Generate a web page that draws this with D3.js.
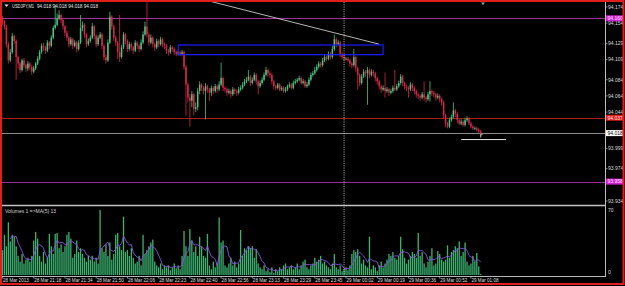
<!DOCTYPE html>
<html><head><meta charset="utf-8">
<script src="https://cdn.jsdelivr.net/npm/d3@7"></script>
<style>html,body{margin:0;padding:0;background:#000;overflow:hidden}svg{display:block}</style>
</head><body><svg id="c" width="625" height="286"></svg>
<script>
const opens = [
94.160,94.156,94.150,94.128,94.108,94.118,94.138,94.132,94.112,94.104,
94.096,94.108,94.102,94.098,94.104,94.100,94.094,94.098,94.104,94.110,
94.118,94.126,94.124,94.120,94.130,94.126,94.136,94.148,94.152,94.160,
94.164,94.158,94.150,94.142,94.136,94.128,94.134,94.126,94.130,94.122,
94.130,94.148,94.152,94.140,94.128,94.132,94.136,94.150,94.138,94.128,
94.136,94.140,94.126,94.112,94.108,94.130,94.162,94.150,94.136,94.130,
94.118,94.112,94.124,94.140,94.132,94.122,94.128,94.124,94.120,94.130,
94.126,94.122,94.130,94.140,94.150,94.140,94.130,94.136,94.128,94.124,
94.132,94.128,94.134,94.128,94.126,94.120,94.118,94.124,94.122,94.118,
94.116,94.118,94.116,94.118,94.100,94.078,94.062,94.058,94.066,94.048,
94.050,94.070,94.078,94.074,94.070,94.076,94.072,94.068,94.074,94.070,
94.076,94.072,94.078,94.086,94.074,94.072,94.068,94.070,94.066,94.072,
94.070,94.068,94.072,94.074,94.078,94.082,94.084,94.088,94.080,94.084,
94.090,94.082,94.076,94.080,94.084,94.090,94.096,94.092,94.090,94.082,
94.076,94.074,94.078,94.072,94.074,94.070,94.072,94.076,94.078,94.074,
94.080,94.082,94.084,94.086,94.080,94.082,94.076,94.078,94.084,94.090,
94.092,94.096,94.100,94.104,94.102,94.108,94.112,94.110,94.116,94.112,
94.122,94.134,94.128,94.130,94.116,94.112,94.110,94.110,94.108,94.104,
94.102,94.112,94.098,94.090,94.080,94.088,94.094,94.092,94.096,94.090,
94.094,94.092,94.086,94.082,94.076,94.072,94.074,94.070,94.072,94.068,
94.070,94.074,94.072,94.076,94.080,94.088,94.080,94.076,94.074,94.072,
94.078,94.074,94.070,94.066,94.064,94.062,94.066,94.062,94.060,94.066,
94.070,94.068,94.066,94.062,94.064,94.060,94.056,94.040,94.030,94.026,
94.034,94.038,94.046,94.042,94.034,94.030,94.032,94.028,94.034,94.036,
94.030,94.026,94.024,94.024,94.022,94.020];
const highs = [
94.163,94.158,94.152,94.131,94.122,94.142,94.140,94.134,94.114,94.106,
94.110,94.111,94.104,94.107,94.106,94.102,94.101,94.106,94.113,94.121,
94.129,94.130,94.126,94.133,94.132,94.139,94.151,94.177,94.166,94.170,
94.166,94.160,94.152,94.145,94.138,94.137,94.136,94.133,94.132,94.133,
94.164,94.156,94.154,94.142,94.135,94.139,94.154,94.152,94.140,94.139,
94.143,94.142,94.128,94.115,94.134,94.168,94.164,94.152,94.139,94.132,
94.164,94.127,94.143,94.142,94.134,94.131,94.130,94.126,94.133,94.132,
94.128,94.134,94.144,94.156,94.180,94.142,94.140,94.138,94.130,94.135,
94.134,94.137,94.136,94.130,94.128,94.122,94.127,94.126,94.124,94.120,
94.120,94.120,94.121,94.120,94.102,94.080,94.066,94.070,94.068,94.056,
94.074,94.082,94.080,94.076,94.080,94.078,94.074,94.077,94.076,94.079,
94.078,94.082,94.105,94.088,94.076,94.074,94.073,94.072,94.075,94.074,
94.072,94.075,94.077,94.081,94.085,94.087,94.096,94.090,94.087,94.093,
94.092,94.084,94.083,94.087,94.093,94.100,94.098,94.094,94.092,94.084,
94.078,94.080,94.080,94.076,94.076,94.075,94.078,94.081,94.080,94.083,
94.085,94.086,94.089,94.088,94.085,94.084,94.081,94.087,94.093,94.095,
94.100,94.103,94.107,94.106,94.111,94.115,94.114,94.119,94.118,94.126,
94.140,94.136,94.133,94.132,94.118,94.114,94.112,94.112,94.110,94.106,
94.122,94.114,94.100,94.092,94.091,94.097,94.096,94.100,94.098,94.097,
94.096,94.094,94.088,94.084,94.078,94.077,94.093,94.075,94.074,94.073,
94.077,94.096,94.079,94.083,94.091,94.090,94.082,94.078,94.076,94.081,
94.080,94.076,94.072,94.068,94.066,94.069,94.082,94.064,94.069,94.082,
94.072,94.070,94.068,94.067,94.066,94.062,94.058,94.042,94.032,94.037,
94.041,94.056,94.048,94.044,94.036,94.035,94.034,94.037,94.039,94.038,
94.032,94.028,94.026,94.026,94.024,94.022];
const lows = [
94.152,94.146,94.124,94.104,94.106,94.116,94.128,94.084,94.098,94.092,
94.094,94.099,94.094,94.095,94.096,94.090,94.092,94.096,94.102,94.108,
94.116,94.120,94.116,94.118,94.122,94.124,94.134,94.146,94.150,94.158,
94.154,94.146,94.138,94.132,94.124,94.126,94.122,94.124,94.118,94.120,
94.128,94.144,94.136,94.124,94.126,94.130,94.134,94.134,94.124,94.126,
94.134,94.122,94.108,94.104,94.106,94.128,94.146,94.132,94.126,94.110,
94.106,94.110,94.122,94.128,94.118,94.120,94.120,94.116,94.118,94.122,
94.118,94.120,94.128,94.138,94.136,94.126,94.128,94.124,94.120,94.122,
94.124,94.126,94.124,94.122,94.116,94.114,94.116,94.119,94.115,94.113,
94.114,94.113,94.114,94.096,94.040,94.056,94.026,94.050,94.040,94.044,
94.046,94.066,94.070,94.066,94.035,94.068,94.058,94.064,94.066,94.068,
94.068,94.070,94.076,94.070,94.068,94.064,94.066,94.062,94.064,94.066,
94.064,94.066,94.070,94.072,94.076,94.080,94.082,94.076,94.078,94.082,
94.078,94.066,94.074,94.078,94.082,94.088,94.088,94.086,94.078,94.072,
94.071,94.072,94.070,94.070,94.068,94.068,94.070,94.074,94.072,94.072,
94.078,94.080,94.082,94.078,94.078,94.074,94.074,94.076,94.082,94.088,
94.090,94.094,94.098,94.099,94.100,94.106,94.107,94.108,94.109,94.110,
94.120,94.124,94.126,94.112,94.109,94.107,94.108,94.106,94.100,94.098,
94.100,94.094,94.072,94.076,94.078,94.086,94.088,94.053,94.086,94.088,
94.088,94.082,94.078,94.072,94.068,94.070,94.062,94.068,94.064,94.066,
94.068,94.070,94.070,94.074,94.078,94.076,94.072,94.070,94.062,94.070,
94.070,94.066,94.062,94.060,94.058,94.060,94.058,94.056,94.058,94.057,
94.064,94.062,94.058,94.060,94.056,94.052,94.036,94.025,94.024,94.024,
94.032,94.036,94.038,94.030,94.028,94.028,94.026,94.026,94.032,94.028,
94.024,94.022,94.022,94.020,94.018,94.014];
const closes = [
94.156,94.150,94.128,94.108,94.118,94.138,94.132,94.112,94.104,94.096,
94.108,94.102,94.098,94.104,94.100,94.094,94.098,94.104,94.110,94.118,
94.126,94.124,94.120,94.130,94.126,94.136,94.148,94.152,94.160,94.164,
94.158,94.150,94.142,94.136,94.128,94.134,94.126,94.130,94.122,94.130,
94.148,94.152,94.140,94.128,94.132,94.136,94.150,94.138,94.128,94.136,
94.140,94.126,94.112,94.108,94.130,94.162,94.150,94.136,94.130,94.118,
94.112,94.124,94.140,94.132,94.122,94.128,94.124,94.120,94.130,94.126,
94.122,94.130,94.140,94.150,94.140,94.130,94.136,94.128,94.124,94.132,
94.128,94.134,94.128,94.126,94.120,94.118,94.124,94.122,94.118,94.116,
94.118,94.116,94.118,94.100,94.078,94.062,94.058,94.066,94.048,94.050,
94.070,94.078,94.074,94.070,94.076,94.072,94.068,94.074,94.070,94.076,
94.072,94.078,94.086,94.074,94.072,94.068,94.070,94.066,94.072,94.070,
94.068,94.072,94.074,94.078,94.082,94.084,94.088,94.080,94.084,94.090,
94.082,94.076,94.080,94.084,94.090,94.096,94.092,94.090,94.082,94.076,
94.074,94.078,94.072,94.074,94.070,94.072,94.076,94.078,94.074,94.080,
94.082,94.084,94.086,94.080,94.082,94.076,94.078,94.084,94.090,94.092,
94.096,94.100,94.104,94.102,94.108,94.112,94.110,94.116,94.112,94.122,
94.134,94.128,94.130,94.116,94.112,94.110,94.110,94.108,94.104,94.102,
94.112,94.098,94.090,94.080,94.088,94.094,94.092,94.096,94.090,94.094,
94.092,94.086,94.082,94.076,94.072,94.074,94.070,94.072,94.068,94.070,
94.074,94.072,94.076,94.080,94.088,94.080,94.076,94.074,94.072,94.078,
94.074,94.070,94.066,94.064,94.062,94.066,94.062,94.060,94.066,94.070,
94.068,94.066,94.062,94.064,94.060,94.056,94.040,94.030,94.026,94.034,
94.038,94.046,94.042,94.034,94.030,94.032,94.028,94.034,94.036,94.030,
94.026,94.024,94.024,94.022,94.020,94.018];
const volumes = [
26,42,30,55,35,42,40,30,20,14,
22,12,16,18,14,20,36,45,38,20,
14,24,12,18,43,30,22,43,44,28,
32,24,30,42,45,38,18,22,36,24,
28,22,18,14,20,16,20,14,18,12,
68,28,24,32,20,34,16,22,42,44,
30,26,61,24,26,20,28,18,12,14,
20,10,42,22,26,30,34,37,14,10,
8,12,6,10,8,10,5,8,12,7,
10,6,20,46,30,20,48,36,24,30,
20,40,30,20,18,43,10,6,14,8,
12,60,34,36,10,8,12,18,10,14,
8,12,47,20,28,26,30,28,30,18,
27,12,8,6,10,4,6,3,8,2,
6,4,8,6,10,12,6,8,10,6,
8,12,6,10,14,16,8,6,10,12,
18,14,16,20,12,14,10,8,6,12,
22,8,6,10,4,6,8,5,10,22,
26,24,27,20,12,16,10,8,40,6,
10,8,4,10,14,8,12,16,22,20,
24,18,16,20,40,27,18,12,16,20,
24,22,18,44,20,24,12,8,14,20,
28,10,12,25,22,16,14,16,31,18,
24,26,30,28,35,20,24,34,14,10,
12,20,14,23,9,1];
const timeLabels = ["28 Mar 2013","28 Mar 21:18","28 Mar 21:34","28 Mar 21:50","28 Mar 22:06","28 Mar 22:23","28 Mar 22:40","28 Mar 22:56","28 Mar 23:13","28 Mar 23:29","28 Mar 23:45","29 Mar 00:02","29 Mar 00:19","29 Mar 00:36","29 Mar 00:52","29 Mar 01:08"];
const timeLabelBars = [0,16,32,48,64,80,96,112,128,144,160,176,192,208,224,240];
const priceTicks = [94.174,94.154,94.129,94.109,94.084,94.064,94.044,93.999,93.974,93.934];
const volumeTicks = [70,0];
const levelPrices = [94.160,94.037,94.018,93.958];
const trendBars = [100,193], trendPrices = [94.185,94.128];
const rectBars = [90,195], rectPrices = [94.127,94.115];
const segBars = [235,258], segPrice = 94.010;
const vlineBar = 175;
const symbol = "USDJPY,M1", lastQuote = "94.018 94.018 94.018 94.018";
const volLabel = "Volumes 1  =>MA(5) 13";

const bull = "#4cc47f", bear = "#d6284a", volColor = "#3cb371", maColor = "#8d52d9";
const FONT = "Liberation Sans, Arial, sans-serif";
const svg = d3.select("#c");
svg.append("rect").attr("width",625).attr("height",286).attr("fill","#000");

const n = closes.length;
const x = d3.scaleLinear().domain([0, n-1]).range([2.5, 480.7]);
const y = d3.scaleLinear().domain([93.934, 94.174]).range([201, 7]);
const yv = d3.scaleLinear().domain([0, 70]).range([275, 208]);

const defs = svg.append("defs");
defs.append("clipPath").attr("id","cm").append("rect").attr("x",2).attr("y",2).attr("width",603).attr("height",203);
defs.append("clipPath").attr("id","cv").append("rect").attr("x",2).attr("y",207).attr("width",603).attr("height",69);

const main = svg.append("g").attr("clip-path","url(#cm)");
const levelColors = ["#a0309f","#a81c1c","#8c8c8c","#9a2c9a"];
main.selectAll("line.lvl").data(levelPrices).join("line")
  .attr("x1",2).attr("x2",605).attr("y1",d=>Math.round(y(d))+0.5).attr("y2",d=>Math.round(y(d))+0.5)
  .attr("stroke",(d,i)=>levelColors[i]).attr("stroke-width",1);

const idx = d3.range(n);
const col = i => closes[i] >= opens[i] ? bull : bear;
main.selectAll("line.wick").data(idx).join("line")
  .attr("x1",i=>x(i)).attr("x2",i=>x(i)).attr("y1",i=>y(highs[i])).attr("y2",i=>y(lows[i]))
  .attr("stroke",col).attr("stroke-width",0.8);
main.selectAll("rect.body").data(idx).join("rect")
  .attr("x",i=>x(i)-0.75).attr("width",1.5)
  .attr("y",i=>y(Math.max(opens[i],closes[i])))
  .attr("height",i=>Math.max(0.8, Math.abs(y(opens[i])-y(closes[i]))))
  .attr("fill",col);

main.append("line").attr("x1",x(trendBars[0])).attr("y1",y(trendPrices[0]))
  .attr("x2",x(trendBars[1])).attr("y2",y(trendPrices[1])).attr("stroke","#c8c8c8").attr("stroke-width",0.9);
main.append("rect").attr("x",x(rectBars[0])).attr("y",y(rectPrices[0]))
  .attr("width",x(rectBars[1])-x(rectBars[0])).attr("height",y(rectPrices[1])-y(rectPrices[0]))
  .attr("fill","none").attr("stroke","#1c1cff").attr("stroke-width",1.2);
main.append("line").attr("x1",x(segBars[0])).attr("x2",x(segBars[1])).attr("y1",y(segPrice)).attr("y2",y(segPrice))
  .attr("stroke","#e8e8e8").attr("stroke-width",1);
main.append("path").attr("d",`M${x(n-1)-0.5},${y(94.016)}h2.5M${x(n-1)},${y(94.016)}v3`).attr("stroke","#e0e0e0").attr("stroke-width",0.7).attr("fill","none");

// header
svg.append("path").attr("d","M4.5,4.5 L8.5,4.5 L6.5,7 Z").attr("fill","#e8e8e8");
svg.append("text").attr("x",12).attr("y",7.8).attr("font-family",FONT).attr("font-size",4.8).attr("fill","#e6e6e6")
  .attr("textLength",22).attr("lengthAdjust","spacingAndGlyphs").text(symbol);
svg.append("text").attr("x",37).attr("y",7.8).attr("font-family",FONT).attr("font-size",4.8).attr("fill","#e6e6e6")
  .attr("textLength",61).attr("lengthAdjust","spacingAndGlyphs").text(lastQuote);
svg.append("path").attr("d","M481,2.5 L485,2.5 L483,5 Z").attr("fill","#a0a0a0");

// volume pane
const vol = svg.append("g").attr("clip-path","url(#cv)");
vol.selectAll("rect.v").data(idx).join("rect")
  .attr("x",i=>x(i)-0.65).attr("width",1.3)
  .attr("y",i=>yv(volumes[i])).attr("height",i=>yv(0)-yv(volumes[i]))
  .attr("fill",volColor);
const ma = idx.filter(i=>i>=4).map(i=>[i, d3.mean(volumes.slice(i-4,i+1))]);
vol.append("path").datum(ma).attr("d",d3.line().x(d=>x(d[0])).y(d=>yv(d[1])))
  .attr("fill","none").attr("stroke",maColor).attr("stroke-width",0.9);
svg.append("text").attr("x",5).attr("y",213).attr("font-family",FONT).attr("font-size",5).attr("fill","#d0d0d0").text(volLabel);

svg.append("line").attr("x1",x(vlineBar)).attr("x2",x(vlineBar)).attr("y1",2).attr("y2",276)
  .attr("stroke","#e8e8e8").attr("stroke-width",0.8).attr("stroke-dasharray","1,1.3");

svg.append("line").attr("x1",2).attr("x2",606).attr("y1",205.5).attr("y2",205.5).attr("stroke","#c4c4c4").attr("stroke-width",1.6);
svg.append("line").attr("x1",2).attr("x2",606).attr("y1",276.5).attr("y2",276.5).attr("stroke","#b8b8b8").attr("stroke-width",1);
svg.append("line").attr("x1",605.5).attr("x2",605.5).attr("y1",2).attr("y2",277).attr("stroke","#bcbcbc").attr("stroke-width",1);

const ax = svg.append("g");
ax.selectAll("line.t").data(priceTicks).join("line").attr("x1",605).attr("x2",607.5)
  .attr("y1",d=>y(d)).attr("y2",d=>y(d)).attr("stroke","#bcbcbc").attr("stroke-width",0.7);
ax.selectAll("text.t").data(priceTicks).join("text").attr("x",608).attr("y",d=>y(d)+1.8)
  .attr("font-family",FONT).attr("font-size",5).attr("fill","#dcdcdc").text(d=>d.toFixed(3));
const boxFill = ["#d21ed2","#e01c1c","#ffffff","#d21ed2"];
const boxText = ["#ffe6ff","#ffe0e0","#000000","#ffe6ff"];
ax.selectAll("rect.lb").data(levelPrices).join("rect").attr("x",606).attr("width",17)
  .attr("y",d=>y(d)-3).attr("height",6).attr("fill",(d,i)=>boxFill[i]);
ax.selectAll("text.lb").data(levelPrices).join("text").attr("x",607.5).attr("y",d=>y(d)+1.8)
  .attr("font-family",FONT).attr("font-size",5).attr("fill",(d,i)=>boxText[i]).text(d=>d.toFixed(3));

ax.selectAll("text.v").data(volumeTicks).join("text").attr("x",608)
  .attr("y",d=>Math.min(Math.max(yv(d),210),272)+1.8)
  .attr("font-family",FONT).attr("font-size",5).attr("fill","#dcdcdc").text(d=>d);

ax.selectAll("line.tt").data(timeLabelBars).join("line").attr("x1",d=>x(d)).attr("x2",d=>x(d))
  .attr("y1",276).attr("y2",278.5).attr("stroke","#bcbcbc").attr("stroke-width",0.7);
ax.selectAll("text.tt").data(timeLabels).join("text").attr("x",(d,i)=>x(timeLabelBars[i])+0.5).attr("y",282.3)
  .attr("font-family",FONT).attr("font-size",4.6).attr("fill","#dcdcdc").text(d=>d);

svg.append("rect").attr("x",1).attr("y",1).attr("width",622.5).attr("height",283)
  .attr("fill","none").attr("stroke","#e01e1e").attr("stroke-width",2);
</script>
</body></html>
